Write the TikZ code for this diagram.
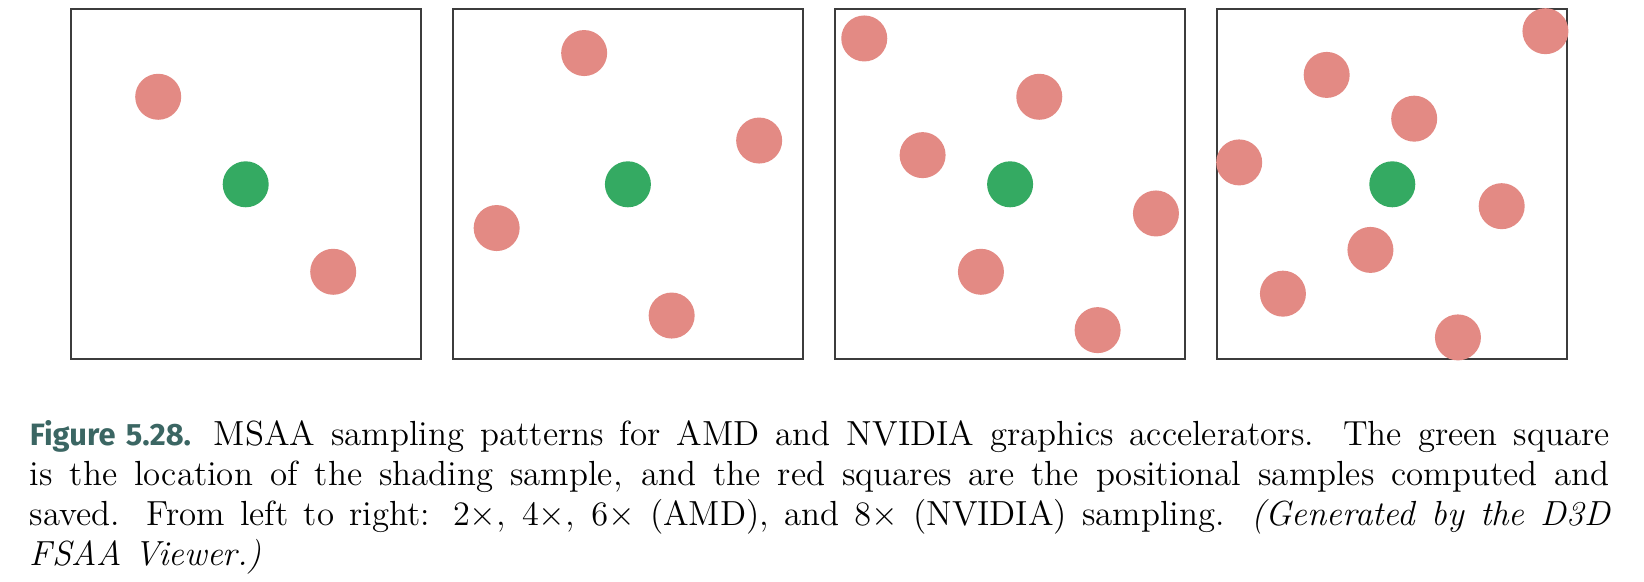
\documentclass[tikz,border=0pt]{standalone}
\usepackage{fontspec}
\usetikzlibrary{calc}
\newfontfamily\capfont{Fira Sans}
\definecolor{samplered}{HTML}{E38A84}
\definecolor{samplegreen}{HTML}{34AA62}
\definecolor{framegray}{HTML}{3C3C3C}
\definecolor{figteal}{HTML}{3B6663}
\begin{document}
\begin{tikzpicture}[x=0.35pt,y=-0.35pt,
  panel/.style={draw=framegray,line width=0.8pt,minimum size=122.5pt,inner sep=0pt,fill=white},
  possample/.style={circle,fill=samplered,minimum size=16.1pt,inner sep=0pt},
  shadesample/.style={circle,fill=samplegreen,minimum size=16.1pt,inner sep=0pt},
  captiontext/.style={anchor=base west,text width=553pt,align=justify,inner sep=0pt,font=\fontsize{12.2}{14}\selectfont}]
\path[use as bounding box,fill=white] (0,0) rectangle (1644,582);
% panels
\node[panel] (p1) at (245.7,184.3) {};
\node[panel] (p2) at (627.9,184.3) {};
\node[panel] (p3) at (1010.1,184.3) {};
\node[panel] (p4) at (1392.3,184.3) {};
% 2x (units of 350/16 px)
\def\unitA{21.875}
\node[shadesample] (g1) at (p1.center) {};
\node[possample] (a1) at ($(p1.center)+(4*\unitA,4*\unitA)$) {};
\node[possample] (a2) at ($(p1.center)+(-4*\unitA,-4*\unitA)$) {};
% 4x
\node[shadesample] (g2) at (p2.center) {};
\node[possample] (b1) at ($(p2.center)+(-2*\unitA,-6*\unitA)$) {};
\node[possample] (b2) at ($(p2.center)+(6*\unitA,-2*\unitA)$) {};
\node[possample] (b3) at ($(p2.center)+(-6*\unitA,2*\unitA)$) {};
\node[possample] (b4) at ($(p2.center)+(2*\unitA,6*\unitA)$) {};
% 6x (units of 350/12 px)
\def\unitB{29.167}
\node[shadesample] (g3) at (p3.center) {};
\node[possample] (c1) at ($(p3.center)+(-5*\unitB,-5*\unitB)$) {};
\node[possample] (c2) at ($(p3.center)+(1*\unitB,-3*\unitB)$) {};
\node[possample] (c3) at ($(p3.center)+(-3*\unitB,-1*\unitB)$) {};
\node[possample] (c4) at ($(p3.center)+(5*\unitB,1*\unitB)$) {};
\node[possample] (c5) at ($(p3.center)+(-1*\unitB,3*\unitB)$) {};
\node[possample] (c6) at ($(p3.center)+(3*\unitB,5*\unitB)$) {};
% 8x
\node[shadesample] (g4) at (p4.center) {};
\node[possample] (d1) at ($(p4.center)+(1*\unitA,-3*\unitA)$) {};
\node[possample] (d2) at ($(p4.center)+(-1*\unitA,3*\unitA)$) {};
\node[possample] (d3) at ($(p4.center)+(5*\unitA,1*\unitA)$) {};
\node[possample] (d4) at ($(p4.center)+(-3*\unitA,-5*\unitA)$) {};
\node[possample] (d5) at ($(p4.center)+(-5*\unitA,5*\unitA)$) {};
\node[possample] (d6) at ($(p4.center)+(-7*\unitA,-1*\unitA)$) {};
\node[possample] (d7) at ($(p4.center)+(3*\unitA,7*\unitA)$) {};
\node[possample] (d8) at ($(p4.center)+(7*\unitA,-7*\unitA)$) {};
% caption
\node[captiontext] (cap) at (29.3,445.7) {{\capfont\fontsize{10.8}{14}\selectfont\bfseries\color{figteal}Figure 5.28.}\hspace{8pt}MSAA sampling patterns for AMD and NVIDIA graphics accelerators.  The green square\linebreak is the location of the shading sample, and the red squares are the positional samples computed and\linebreak saved.  From left to right: $2\times$, $4\times$, $6\times$ (AMD), and $8\times$ (NVIDIA) sampling.  \textit{(Generated by the D3D\linebreak FSAA Viewer.)}\par};
\end{tikzpicture}
\end{document}
